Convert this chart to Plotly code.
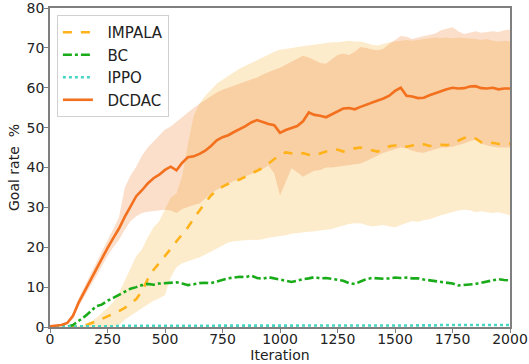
import plotly.graph_objects as go

iterations = list(range(0, 2001, 25))

dcdac_mean = [0.2, 0.3, 0.5, 1.0, 2.8, 6.2, 9.0, 11.6, 14.2, 17.0, 19.8, 22.3, 24.7, 27.6, 30.2, 32.8,
              34.3, 36.0, 37.3, 38.2, 39.4, 40.2, 39.3, 41.2, 42.6, 42.8, 43.4, 44.2, 45.4, 46.8, 47.6,
              48.1, 48.9, 49.6, 50.4, 51.3, 51.9, 51.4, 50.9, 50.6, 48.7, 49.4, 50.0, 50.4, 51.6, 53.8,
              53.2, 53.0, 52.6, 53.4, 54.2, 54.8, 54.9, 54.6, 55.2, 55.8, 56.4, 56.8, 57.3, 58.0, 59.2,
              60.0, 58.0, 57.8, 57.4, 57.5, 58.1, 58.7, 59.1, 59.6, 60.0, 59.8, 59.9, 60.3, 60.4, 59.9,
              59.8, 60.0, 59.6, 59.8, 59.8]
dcdac_low = [0.0, 0.1, 0.3, 0.7, 2.0, 5.2, 7.8, 10.2, 12.6, 15.2, 17.8, 20.0, 21.9, 24.4, 26.5, 27.8,
             28.6, 28.9, 29.1, 29.3, 29.4, 29.2, 28.6, 29.6, 30.2, 30.6, 31.0, 32.2, 33.5, 34.4, 35.2,
             36.0, 36.6, 37.2, 37.7, 38.4, 39.0, 39.6, 40.5, 38.5, 33.0, 36.5, 39.8, 38.8, 37.7, 38.5,
             39.2, 39.4, 40.0, 40.0, 40.2, 40.4, 40.6, 40.8, 41.0, 41.6, 42.2, 43.0, 43.7, 44.2, 44.6,
             45.0, 44.8, 44.2, 43.8, 43.7, 44.2, 44.6, 45.0, 45.0, 45.2, 45.6, 46.0, 46.6, 47.0, 46.0,
             45.5, 45.2, 45.0, 45.0, 45.0]
dcdac_high = [0.4, 0.5, 0.8, 1.4, 3.5, 7.2, 10.2, 13.0, 15.8, 18.8, 21.8, 24.6, 27.5, 35.0, 38.0, 40.2,
              43.0, 45.0, 46.5, 48.0, 49.5, 50.3, 51.5, 52.8, 54.0, 55.0, 56.0, 57.0, 58.0, 58.8, 59.5,
              60.0, 60.5, 61.0, 61.5, 62.0, 62.6, 63.3, 64.0, 64.5, 65.0, 65.8, 66.6, 67.2, 68.0, 67.6,
              66.8, 66.2, 66.0, 67.0, 68.2, 68.6, 68.2, 69.0, 70.2, 70.0, 69.6, 69.4, 69.8, 71.0, 72.0,
              73.0, 72.8, 72.2, 72.6, 73.0, 73.2, 73.6, 74.4, 74.8, 75.2, 74.2, 73.5, 73.8, 74.2, 73.8,
              74.0, 74.2, 74.0, 74.4, 74.6]

impala_mean = [0.0, 0.0, 0.0, 0.0, 0.0, 0.1, 0.3, 0.8, 1.4, 2.0, 2.6, 3.2, 4.0, 4.8, 5.8, 7.0,
               9.0, 12.0, 14.3, 16.0, 17.8, 19.6, 21.5, 23.3, 25.0, 27.2, 29.3, 31.2, 33.0, 34.3, 35.2,
               36.0, 36.6, 37.0, 37.7, 38.5, 39.2, 39.9, 41.0, 42.2, 43.2, 43.8, 43.5, 43.3, 43.6, 43.2,
               43.0, 43.6, 44.0, 44.3, 44.5, 44.0, 44.6, 44.8, 45.0, 44.7, 44.3, 44.0, 44.6, 45.3, 45.5,
               45.7, 45.2, 45.5, 46.0, 45.8, 45.4, 45.5, 45.7, 45.6, 46.0, 46.7, 47.4, 47.7, 47.3, 46.3,
               46.0, 46.2, 45.9, 46.0, 46.0]
impala_low = [0.0, 0.0, 0.0, 0.0, 0.0, 0.0, 0.0, 0.0, 0.0, 0.0, 0.0, 0.0, 0.5, 1.8, 2.8, 3.8,
              4.8, 5.8, 6.6, 7.2, 8.0, 12.5, 15.0, 16.0, 16.6, 17.0, 17.4, 18.2, 19.0, 19.8, 20.5,
              21.2, 21.5, 21.6, 21.8, 21.9, 21.8, 22.0, 22.4, 22.6, 22.8, 23.0, 23.4, 23.6, 23.8, 23.9,
              24.0, 24.2, 24.4, 24.6, 25.0, 25.4, 25.8, 26.0, 26.0, 25.6, 25.2, 25.4, 25.6, 25.2, 25.0,
              25.6, 26.2, 26.6, 26.4, 26.8, 27.0, 27.6, 28.0, 28.4, 28.8, 29.2, 29.4, 29.3, 28.8, 29.0,
              28.8, 28.6, 28.8, 28.3, 28.0]
impala_high = [0.0, 0.0, 0.0, 0.0, 0.0, 0.2, 0.5, 1.2, 2.2, 3.5, 4.8, 6.2, 8.5, 11.5, 14.8, 17.8,
               19.5, 22.5, 25.0, 26.5, 29.5, 32.5, 33.5, 38.0, 46.0, 53.0, 56.0, 58.0, 59.5, 61.0, 62.0,
               63.0, 64.0, 64.8, 65.5, 66.2, 67.0, 67.8, 68.5, 69.0, 69.5, 69.8, 70.0, 70.2, 70.4, 70.6,
               70.8, 71.0, 71.2, 71.4, 71.4, 71.6, 71.8, 71.6, 71.6, 71.2, 70.8, 70.6, 71.0, 71.4, 71.6,
               71.8, 72.0, 71.8, 72.0, 72.2, 72.4, 72.6, 72.5, 72.6, 72.4, 72.6, 72.5, 72.4, 72.2, 72.0,
               72.2, 71.8, 71.6, 71.8, 71.6]

bc_mean = [0.0, 0.0, 0.0, 0.1, 0.5, 1.5, 2.6, 3.8, 5.2, 5.6, 6.6, 7.3, 8.0, 8.9, 9.6, 10.0,
           10.5, 10.8, 10.6, 10.9, 11.0, 11.0, 11.2, 10.9, 10.5, 10.7, 11.0, 11.1, 11.0, 11.4, 11.9,
           12.2, 12.4, 12.6, 12.5, 12.9, 12.3, 12.1, 12.5, 12.2, 12.0, 11.7, 11.3, 11.6, 12.0, 12.2,
           12.5, 12.2, 12.3, 12.1, 11.9, 11.6, 11.0, 10.8, 11.4, 12.0, 12.3, 12.2, 12.1, 12.2, 12.4,
           12.3, 12.4, 12.2, 12.2, 11.9, 11.7, 11.5, 11.4, 11.2, 10.9, 10.4, 10.5, 10.7, 10.8, 11.1,
           11.4, 11.8, 12.0, 11.8, 11.7]

ippo_mean = [0.1, 0.1, 0.2, 0.2, 0.2, 0.2, 0.2, 0.2, 0.2, 0.2, 0.2, 0.2, 0.3, 0.3, 0.3, 0.3,
             0.3, 0.3, 0.3, 0.3, 0.3, 0.3, 0.3, 0.3, 0.3, 0.3, 0.3, 0.3, 0.3, 0.3, 0.3,
             0.3, 0.3, 0.3, 0.3, 0.3, 0.3, 0.3, 0.3, 0.3, 0.3, 0.3, 0.3, 0.3, 0.3, 0.3,
             0.3, 0.3, 0.3, 0.3, 0.3, 0.3, 0.4, 0.4, 0.4, 0.4, 0.4, 0.4, 0.4, 0.4, 0.4,
             0.4, 0.4, 0.4, 0.4, 0.4, 0.4, 0.4, 0.5, 0.5, 0.5, 0.5, 0.5, 0.5, 0.5, 0.5,
             0.5, 0.5, 0.5, 0.5, 0.5]

x_ticks = [0, 250, 500, 750, 1000, 1250, 1500, 1750, 2000]
y_ticks = [0, 10, 20, 30, 40, 50, 60, 70, 80]

FONT = "DejaVu Sans"
C_DCDAC = "#f3701f"
C_IMPALA = "#ffb21a"
C_BC = "#1aab1a"
C_IPPO = "#47d6c4"
PAD = "\u00a0\u00a0"

fig = go.Figure()

# bands
fig.add_trace(go.Scatter(x=iterations, y=impala_high, mode="lines", line=dict(width=0),
                         showlegend=False, hoverinfo="skip"))
fig.add_trace(go.Scatter(x=iterations, y=impala_low, mode="lines", line=dict(width=0),
                         fill="tonexty", fillcolor="rgba(248,175,40,0.24)",
                         showlegend=False, hoverinfo="skip"))
fig.add_trace(go.Scatter(x=iterations, y=dcdac_high, mode="lines", line=dict(width=0),
                         showlegend=False, hoverinfo="skip"))
fig.add_trace(go.Scatter(x=iterations, y=dcdac_low, mode="lines", line=dict(width=0),
                         fill="tonexty", fillcolor="rgba(235,110,20,0.22)",
                         showlegend=False, hoverinfo="skip"))

fig.add_trace(go.Scatter(x=iterations, y=impala_mean, mode="lines", name=PAD + "IMPALA",
                         line=dict(color=C_IMPALA, width=2.6, dash="dash")))
fig.add_trace(go.Scatter(x=iterations, y=bc_mean, mode="lines", name=PAD + "BC",
                         line=dict(color=C_BC, width=2.6, dash="dashdot")))
fig.add_trace(go.Scatter(x=iterations, y=ippo_mean, mode="lines", name=PAD + "IPPO",
                         line=dict(color=C_IPPO, width=2.6, dash="dot")))
fig.add_trace(go.Scatter(x=iterations, y=dcdac_mean, mode="lines", name=PAD + "DCDAC",
                         line=dict(color=C_DCDAC, width=2.6)))

axis_common = dict(showline=True, linecolor="#7f7f7f", linewidth=1.6, mirror=True,
                   ticks="outside", ticklen=4, tickwidth=1.2, tickcolor="#7f7f7f",
                   showgrid=False, zeroline=False, automargin=False,
                   ticklabeloverflow="allow",
                   tickfont=dict(family=FONT, size=14, color="#222"))

fig.update_layout(
    width=529, height=364,
    margin=dict(l=50, r=19, t=8, b=37),
    paper_bgcolor="white", plot_bgcolor="white",
    font=dict(family=FONT, size=14, color="#222"),
    xaxis=dict(range=[0, 2000], tickvals=x_ticks, ticktext=[str(v) for v in x_ticks],
               ticklabelstandoff=-6,
               title=dict(text="Iteration", font=dict(family=FONT, size=14), standoff=0),
               **axis_common),
    yaxis=dict(range=[0, 80], tickvals=y_ticks, ticktext=[str(v) for v in y_ticks],
               ticklabelstandoff=-3,
               title=dict(text="Goal rate\u00a0\u00a0%", font=dict(family=FONT, size=14), standoff=4),
               **axis_common),
    legend=dict(x=0.015, y=0.978, xanchor="left", yanchor="top",
                bgcolor="rgba(255,255,255,0.85)", bordercolor="#d0d0d0", borderwidth=1,
                font=dict(family=FONT, size=15, color="#222"),
                tracegroupgap=0, traceorder="normal", itemwidth=30),
    showlegend=True,
)

fig.write_html("out.html", config={"displayModeBar": False},
               post_script="document.body.style.margin='0px';document.body.style.padding='0px';")
